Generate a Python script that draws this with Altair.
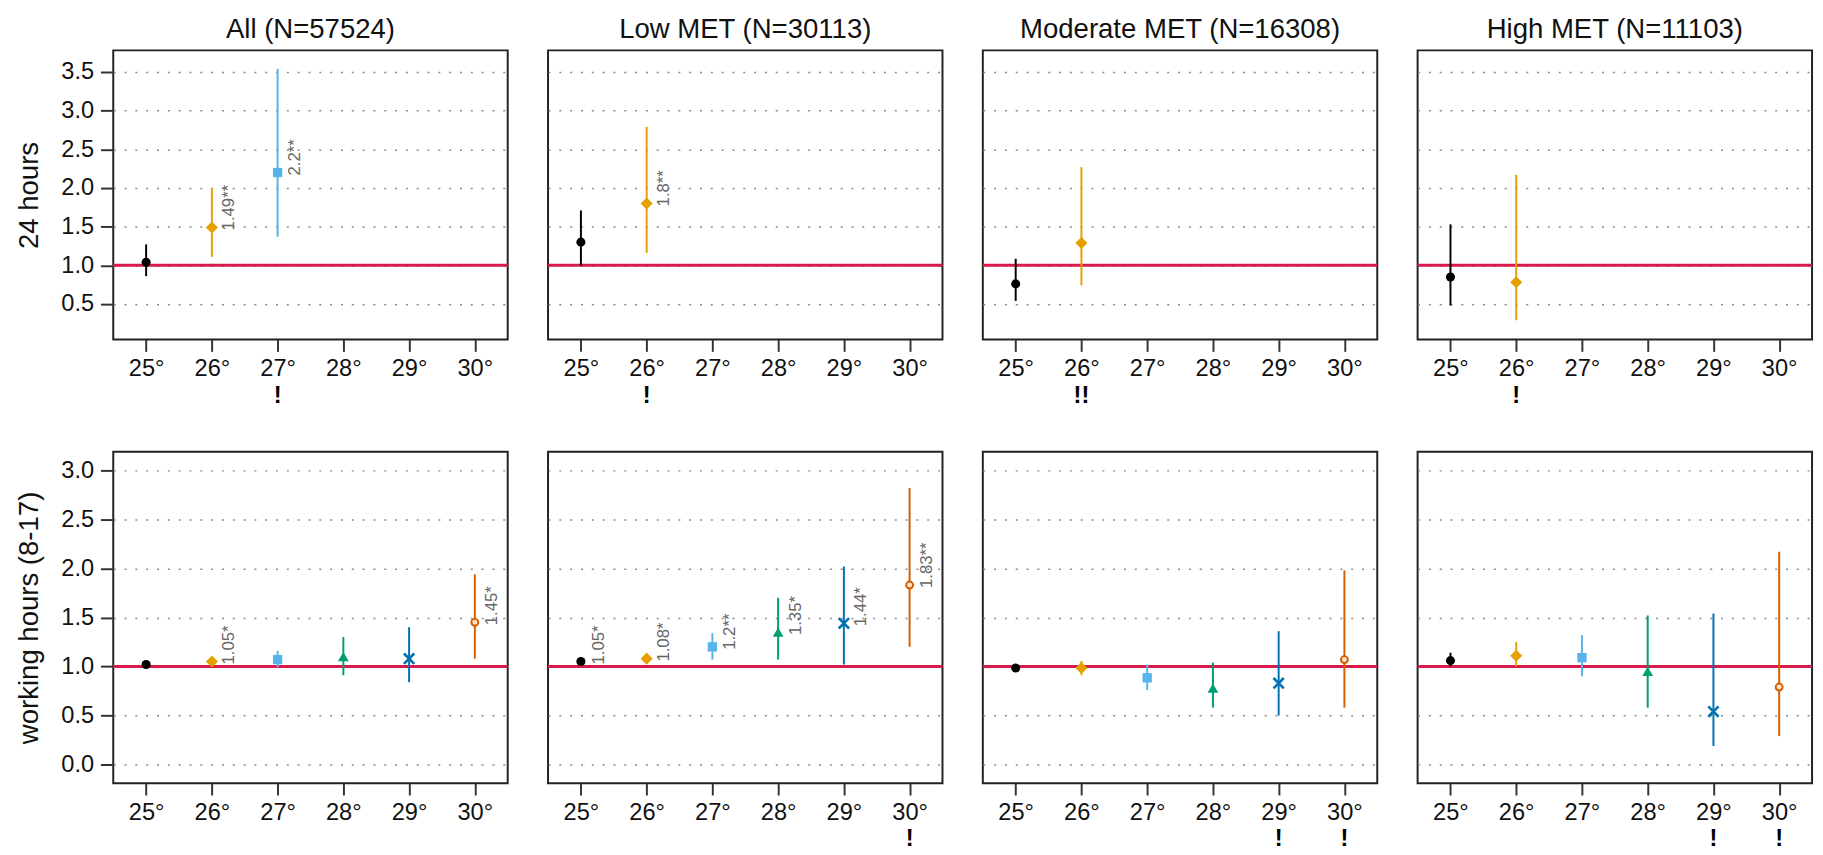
import altair as alt
import pandas as pd

# ---------------- data ----------------
GROUPS = ["All", "Low MET", "Moderate MET", "High MET"]
NS = [57524, 30113, 16308, 11103]
TEMPS = [25, 26, 27, 28, 29, 30]

# 24 hours (odds ratios with 95% CI)
EST_24 = [[1.04, 1.49, 2.20], [1.30, 1.80], [0.76, 1.29], [0.85, 0.78]]
LO_24 = [[0.86, 1.11, 1.37], [1.00, 1.16], [0.54, 0.74], [0.48, 0.29]]
HI_24 = [[1.27, 2.00, 3.54], [1.71, 2.79], [1.085, 2.27], [1.53, 2.17]]
LAB_24 = [["", "1.49**", "2.2**"], ["", "1.8**"], ["", ""], ["", ""]]
WARN_24 = [["", "", "!"], ["", "!"], ["", "!!"], ["", "!"]]

# working hours (8-17)
EST_WH = [[1.02, 1.05, 1.07, 1.10, 1.08, 1.45],
          [1.05, 1.08, 1.20, 1.35, 1.44, 1.83],
          [0.985, 0.985, 0.885, 0.78, 0.83, 1.07],
          [1.06, 1.11, 1.09, 0.95, 0.54, 0.79]]
LO_WH = [[1.00, 1.02, 0.99, 0.91, 0.84, 1.08],
         [1.01, 1.04, 1.07, 1.07, 1.02, 1.20],
         [0.96, 0.91, 0.76, 0.58, 0.50, 0.58],
         [1.00, 1.00, 0.90, 0.58, 0.19, 0.29]]
HI_WH = [[1.04, 1.08, 1.16, 1.30, 1.40, 1.94],
         [1.09, 1.12, 1.34, 1.70, 2.02, 2.82],
         [1.01, 1.056, 1.02, 1.04, 1.36, 1.98],
         [1.14, 1.25, 1.32, 1.52, 1.54, 2.17]]
LAB_WH = [["", "1.05*", "", "", "", "1.45*"],
          ["1.05*", "1.08*", "1.2**", "1.35*", "1.44*", "1.83**"],
          ["", "", "", "", "", ""],
          ["", "", "", "", "", ""]]
WARN_WH = [["", "", "", "", "", ""],
           ["", "", "", "", "", "!"],
           ["", "", "", "", "!", "!"],
           ["", "", "", "", "!", "!"]]

# ---------------- styles ----------------
FONT = "Liberation Sans"
PALETTE = ["#000000", "#E69F00", "#56B4E9", "#009E73", "#0072B2", "#D55E00"]
RED = "#D81B4A"
W = 401
H_TOP = 294
H_BOT = 337
# marker style per temperature: (shape, size, filled)
MARKERS = {
    25: ("circle", 85, True),
    26: ("diamond", 150, True),
    27: ("square", 90, True),
    28: ("triangle-up", 120, True),
    29: ("M-1,-1L1,1M-1,1L1,-1", 110, False),
    30: ("circle", 50, False),
}

color_scale = alt.Scale(domain=TEMPS, range=PALETTE)


def make_panel(gi, period):
    if period == "24":
        est, lo, hi = EST_24[gi], LO_24[gi], HI_24[gi]
        lab, warn = LAB_24[gi], WARN_24[gi]
        ydom = [0.04, 3.78]
        yvals = [0.5, 1.0, 1.5, 2.0, 2.5, 3.0, 3.5]
        h = H_TOP
        ytitle = "24 hours"
    else:
        est, lo, hi = EST_WH[gi], LO_WH[gi], HI_WH[gi]
        lab, warn = LAB_WH[gi], WARN_WH[gi]
        ydom = [-0.19, 3.19]
        yvals = [0.0, 0.5, 1.0, 1.5, 2.0, 2.5, 3.0]
        h = H_BOT
        ytitle = "working hours (8-17)"
    n = len(est)
    df = pd.DataFrame({"temp": TEMPS[:n], "est": est, "lo": lo, "hi": hi,
                       "label": lab, "warn": warn})

    if gi == 0:
        yaxis = alt.Axis(values=yvals, format=".1f", title=ytitle, grid=True)
    else:
        yaxis = alt.Axis(values=yvals, labels=False, ticks=False, title=None, grid=True)

    yscale = alt.Scale(domain=ydom, nice=False, zero=False)
    xenc = alt.X("temp:Q",
                 scale=alt.Scale(domain=[24.5, 30.5], nice=False, zero=False),
                 axis=alt.Axis(values=TEMPS, labelExpr="datum.value + '°'", title=None))
    y_est = alt.Y("est:Q", scale=yscale, axis=yaxis)
    cenc = alt.Color("temp:O", scale=color_scale, legend=None)

    base = alt.Chart(df)

    ref = alt.Chart(pd.DataFrame({"est": [1.0]})).mark_rule(
        color=RED, strokeWidth=3).encode(y=y_est)

    bars = base.mark_rule(strokeWidth=2).encode(
        x=xenc,
        y=alt.Y("lo:Q", scale=yscale, axis=yaxis),
        y2="hi:Q",
        color=cenc,
    )

    layers = [ref, bars]
    for t in TEMPS[:n]:
        shape, size, filled = MARKERS[t]
        if filled:
            mk = base.transform_filter(f"datum.temp == {t}").mark_point(
                shape=shape, size=size, filled=True, opacity=1)
        elif t == 29:
            mk = base.transform_filter(f"datum.temp == {t}").mark_point(
                shape=shape, size=size, filled=False, strokeWidth=2.6, opacity=1)
        else:
            mk = base.transform_filter(f"datum.temp == {t}").mark_point(
                shape=shape, size=size, filled=False, fill="#fbe3d0",
                fillOpacity=1, strokeWidth=2, opacity=1)
        layers.append(mk.encode(x=xenc, y=y_est, color=cenc))

    labels = base.mark_text(angle=270, align="left", baseline="middle",
                            dy=18, dx=-3, fontSize=17, font=FONT,
                            color="#666666").encode(
        x=xenc, y=y_est, text="label:N")

    warns = base.mark_text(baseline="middle", align="center", fontSize=24,
                           fontWeight="bold", font=FONT, color="#000000").encode(
        x=xenc, y=alt.value(h + 57), text="warn:N")

    layers += [labels, warns]
    layer = alt.layer(*layers).properties(width=W, height=h)
    if period == "24":
        layer = layer.properties(title=alt.TitleParams(
            f"{GROUPS[gi]} (N={NS[gi]})", anchor="middle"))
    return layer


row1 = alt.hconcat(*[make_panel(i, "24") for i in range(4)], spacing=35)
row2 = alt.hconcat(*[make_panel(i, "wh") for i in range(4)], spacing=35)

chart = alt.vconcat(row1, row2, spacing=43).properties(
    padding={"left": 6, "top": 0, "right": 0, "bottom": 0},
    background="white",
).configure_view(
    stroke="#222222", strokeWidth=2
).configure_axis(
    labelFont=FONT, labelFontSize=24, labelColor="#111111",
    titleFont=FONT, titleFontSize=28, titleFontWeight="normal", titleColor="#111111",
    tickColor="#333333", tickWidth=2, domain=False,
    gridColor="#8a8a8a", gridDash=[2, 9], gridWidth=1.5,
).configure_axisX(
    grid=False, tickSize=12, labelPadding=6,
).configure_axisY(
    tickSize=13, labelPadding=7, titlePadding=18,
).configure_title(
    font=FONT, fontSize=28, fontWeight="normal", color="#111111", offset=7,
)

chart.save("out.html", embed_options={"renderer": "svg", "actions": False})
